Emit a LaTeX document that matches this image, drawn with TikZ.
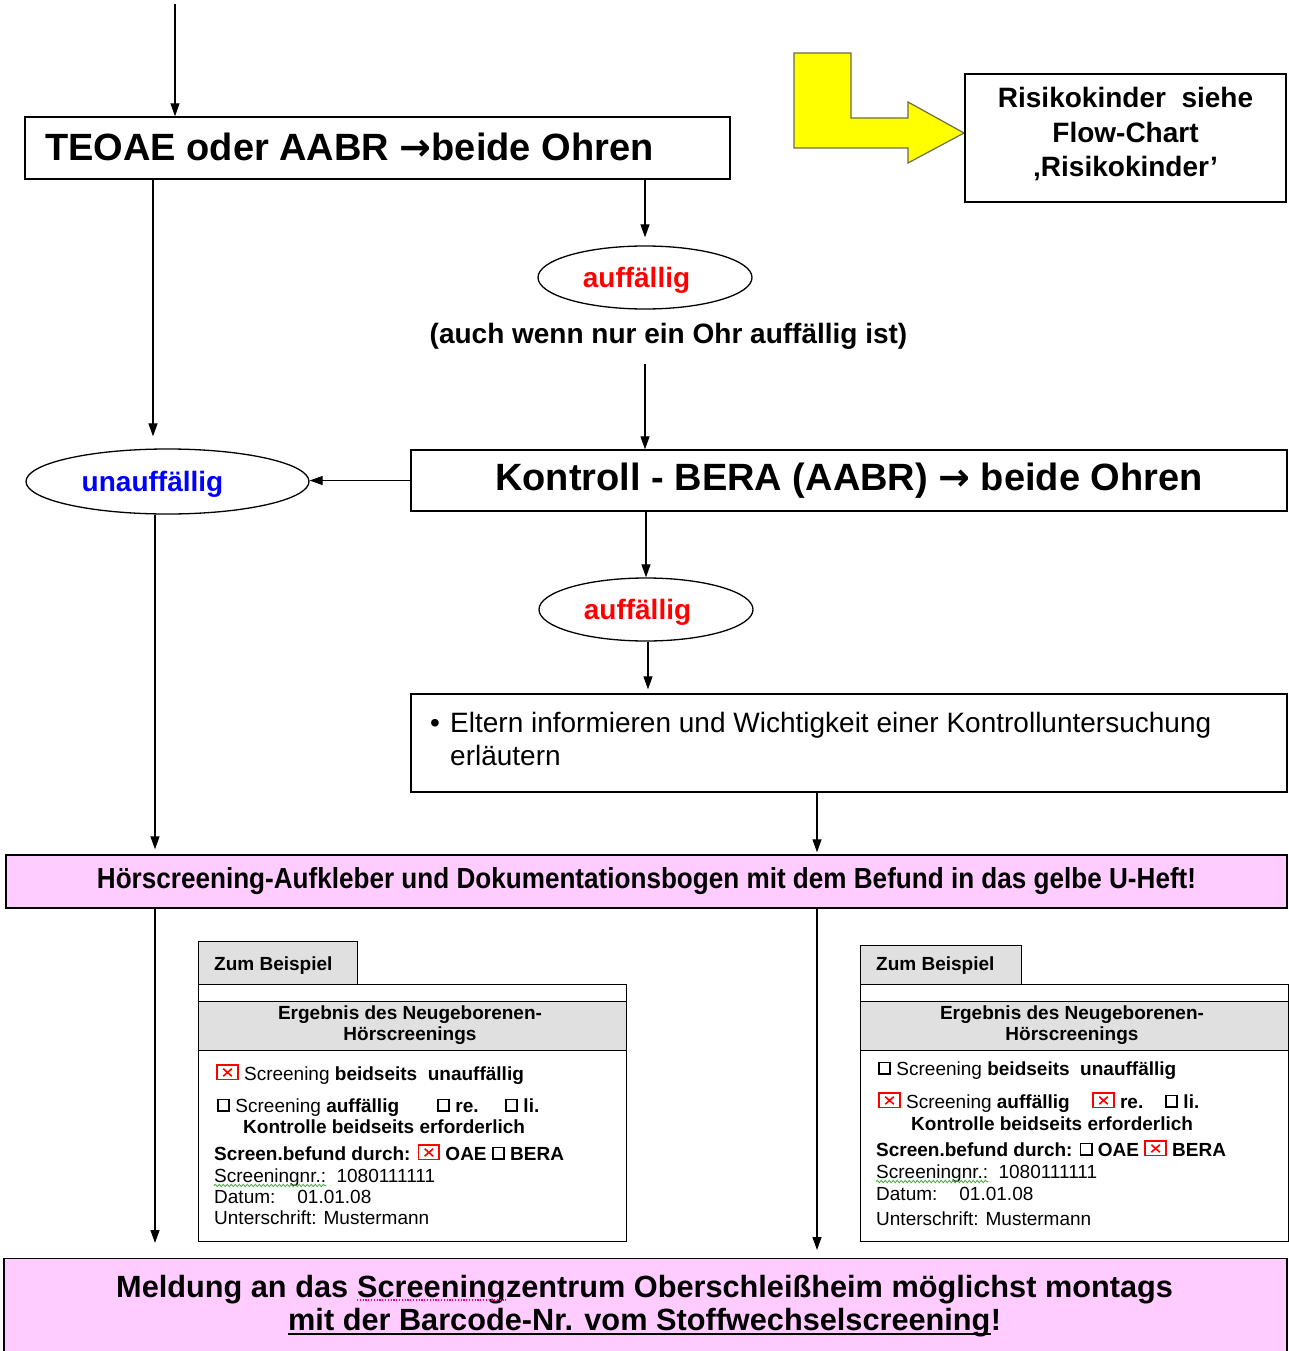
\documentclass[tikz,border=0pt]{standalone}
\usepackage{fontspec}
\usepackage{graphicx}
\setmainfont{Liberation Sans}
\newfontfamily\dejavu{DejaVu Sans}
\usetikzlibrary{arrows.meta,shapes.geometric,decorations.pathmorphing}
\definecolor{pinkfill}{HTML}{FFCCFF}
\definecolor{hdrgray}{HTML}{E0E0E0}
\definecolor{redbox}{HTML}{FF0000}
\definecolor{blueua}{HTML}{0000FF}
\definecolor{yfill}{HTML}{FFFF00}
\definecolor{wavegreen}{HTML}{3CB043}
\newcommand\ebox{\tikz[baseline=0pt]\draw[black,line width=1.8pt] (0.9pt,0.9pt) rectangle (12.1pt,12.6pt);}
\newcommand\rbox{\tikz[baseline=0pt]{\draw[redbox, line width=1.9pt] (0.9pt,0.5pt) rectangle (21.6pt,14.6pt); \draw[redbox, line width=1.6pt] (7pt,3.8pt)--(15.5pt,11.3pt) (7pt,11.3pt)--(15.5pt,3.8pt);}}
\tikzset{
 box/.style={draw, line width=1.4pt, rectangle, inner sep=0pt},
 exbox/.style={draw, line width=1.3pt, rectangle, inner sep=0pt, anchor=north west},
 arr/.style={line width=1.2pt, -{Triangle[length=13pt,width=9pt]}},
 oval/.style={draw, ellipse, line width=1.3pt, inner sep=0pt},
 fbig/.style={font=\fontsize{38}{44}\selectfont\bfseries},
 fmid/.style={font=\fontsize{28}{34.5}\selectfont\bfseries},
 fmidr/.style={font=\fontsize{28}{33}\selectfont},
 fbot/.style={font=\fontsize{30.7}{33}\selectfont\bfseries},
 fsmall/.style={font=\fontsize{19}{21}\selectfont},
 fsmallb/.style={font=\fontsize{19}{21}\selectfont\bfseries},
 txt/.style={inner sep=0pt, anchor=base west},
 wavy/.style={draw=wavegreen, line width=0.8pt, decorate, decoration={snake, amplitude=1.2pt, segment length=4pt}},
}
\begin{document}
\begin{tikzpicture}[x=1pt,y=-1pt]
\useasboundingbox (0,0) rectangle (1289,1351);
\fill[white] (0,0) rectangle (1289,1351);

% top box
\node[box, minimum width=705pt, minimum height=62pt] (top) at (377.5,148) {};
\node[txt, fbig] (toptxt) at (45,161) {TEOAE oder AABR {\dejavu\bfseries →}beide Ohren};
\coordinate (start) at (175,4);
\draw[arr] (start) -- (start |- top.north);

% yellow arrow
\draw[fill=yfill, draw=black!65!yellow, line width=1.2pt] (794,53) -- (851,53) -- (851,118) -- (908,118) -- (908,102) -- (964,133) -- (908,163) -- (908,148) -- (794,148) -- cycle;
\node[box, minimum width=321pt, minimum height=128pt] (risk) at (1125.5,138) {};
\node[align=center, fmid, inner sep=0pt] (risktxt) at (1125.5,134.5) {Risikokinder\ \ siehe\\Flow-Chart\\‚Risikokinder’};

% first auffaellig
\node[oval, minimum width=214pt, minimum height=63pt] (e1) at (645,277.5) {};
\node[fmid, text=redbox, inner sep=0pt, anchor=base] (e1t) at (636.5,287) {auffällig};
\draw[arr, shorten >=8pt] (top.south -| e1.north) -- (e1.north);
\node[fmid, inner sep=0pt] (note) at (668.5,336) {(auch wenn nur ein Ohr auffällig ist)};

% Kontroll box
\node[box, minimum width=876pt, minimum height=61pt, fbig] (kb) at (849,480.5) {Kontroll - BERA (AABR) {\dejavu\bfseries →} beide Ohren};
\coordinate (n1) at ([yshift=-15pt]note.south);
\draw[arr] (n1 -| e1.south) -- (e1.south |- kb.north);

% unauffaellig
\node[oval, minimum width=283pt, minimum height=65pt] (ua) at (167.5,481.5) {};
\node[fmid, text=blueua, inner sep=0pt, anchor=base] (uat) at (152.5,491) {unauffällig};
\draw[arr] (kb.west) -- (kb.west -| ua.east);
\coordinate (lx) at (153,0);
\coordinate (lx2) at (155,0);
\draw[arr, shorten >=12pt] (top.south -| lx) -- (lx |- ua.north);

% second auffaellig
\node[oval, minimum width=214pt, minimum height=63pt] (e2) at (646,609.5) {};
\node[fmid, text=redbox, inner sep=0pt, anchor=base] (e2t) at (637.5,619) {auffällig};
\draw[arr] (kb.south -| e2.north) -- (e2.north);

% Eltern box
\node[box, minimum width=876pt, minimum height=98pt] (elt) at (849,743) {};
\coordinate (ex) at (648,0);
\draw[arr, shorten >=4pt] (e2.south -| ex) -- (ex |- elt.north);
\node[txt, fmidr] (bul) at (430,732) {\textbullet};
\node[txt, fmidr] (elt1) at (450,732) {Eltern informieren und Wichtigkeit einer Kontrolluntersuchung};
\node[txt, fmidr] (elt2) at (450,765) {erläutern};

% pink box 1
\node[box, fill=pinkfill, minimum width=1281pt, minimum height=53pt, font=\fontsize{29}{33}\selectfont\bfseries] (p1) at (646.5,881.5) {\scalebox{0.9}[1]{Hörscreening-Aufkleber und Dokumentationsbogen mit dem Befund in das gelbe U-Heft!}};
\coordinate (ex2) at (817,0);
\draw[arr, shorten >=2pt] (elt.south -| ex2) -- (ex2 |- p1.north);
\draw[arr, shorten >=5pt] (ua.south -| lx2) -- (lx2 |- p1.north);

% bottom pink box
\node[box, fill=pinkfill, minimum width=1283pt, minimum height=100pt, anchor=north] (bot) at (645.5,1258) {};
\node[txt, fbot] (bot1a) at (116,1297) {Meldung an das};
\node[txt, fbot] (bot1b) at ([xshift=8.6pt]bot1a.base east) {Screening};
\node[txt, fbot] (bot1c) at (bot1b.base east) {zentrum Oberschleißheim möglichst montags};
\draw[magenta, line width=1.3pt, dash pattern=on 1.3pt off 1.5pt] ([yshift=-3pt]bot1b.base west) -- ([yshift=-3pt]bot1b.base east);
\node[txt, fbot] (bot2a) at (288,1330) {mit der Barcode-Nr. vom Stoffwechselscreening};
\node[txt, fbot] (bot2b) at (bot2a.base east) {!};
\draw[line width=2pt] ([yshift=-4pt]bot2a.base west) -- ([yshift=-4pt]bot2a.base east);
\draw[arr, shorten >=15pt] (p1.south -| lx2) -- (lx2 |- bot.north);
\draw[arr, shorten >=8pt] (p1.south -| ex2) -- (ex2 |- bot.north);

% left example
\node[exbox, fill=hdrgray, minimum width=159pt, minimum height=43pt] (tabL) at (198,941) {};
\node[txt, fsmallb] (tabLt) at (214,970) {Zum Beispiel};
\node[exbox, minimum width=428pt, minimum height=257pt] (exL) at (198,984) {};
\node[exbox, fill=hdrgray, minimum width=428pt, minimum height=49pt] (hdL) at (198,1001) {};
\node[fsmallb, align=center, inner sep=0pt] (hdLt) at (410,1025.5) {Ergebnis des Neugeborenen-\\Hörscreenings};
\node[txt, fsmall] (l1) at (216,1080) {\rbox\ Screening \textbf{beidseits\ \ unauffällig}};
\node[txt, fsmall] (l2) at (217,1112) {\ebox\ Screening \textbf{auffällig}};
\node[txt, fsmallb] (l2b) at (437,1112) {\ebox\ re.};
\node[txt, fsmallb] (l2c) at (505,1112) {\ebox\ li.};
\node[txt, fsmallb] (l3) at (243,1133) {Kontrolle beidseits erforderlich};
\node[txt, fsmallb] (l4) at (214,1160) {Screen.befund durch: \rbox\ OAE \ebox\ BERA};
\node[txt, fsmall] (l5a) at (214,1182) {Screeningnr.:};
\node[txt, fsmall] (l5b) at ([xshift=10pt]l5a.base east) {1080111111};
\draw[wavy] ([yshift=-3.5pt]l5a.base west) -- ([yshift=-3.5pt]l5a.base east);
\node[txt, fsmall] (l6) at (214,1203) {Datum:\hspace{22pt}01.01.08};
\node[txt, fsmall] (l7) at (214,1224) {Unterschrift: Mustermann};

% right example
\node[exbox, fill=hdrgray, minimum width=161pt, minimum height=39pt] (tabR) at (860,945) {};
\node[txt, fsmallb] (tabRt) at (876,970) {Zum Beispiel};
\node[exbox, minimum width=428pt, minimum height=257pt] (exR) at (860,984) {};
\node[exbox, fill=hdrgray, minimum width=428pt, minimum height=49pt] (hdR) at (860,1001) {};
\node[fsmallb, align=center, inner sep=0pt] (hdRt) at (1072,1025.5) {Ergebnis des Neugeborenen-\\Hörscreenings};
\node[txt, fsmall] (r1) at (878,1075) {\ebox\ Screening \textbf{beidseits\ \ unauffällig}};
\node[txt, fsmall] (r2) at (878,1108) {\rbox\ Screening \textbf{auffällig}};
\node[txt, fsmallb] (r2b) at (1092,1108) {\rbox\ re.};
\node[txt, fsmallb] (r2c) at (1165,1108) {\ebox\ li.};
\node[txt, fsmallb] (r3) at (911,1130) {Kontrolle beidseits erforderlich};
\node[txt, fsmallb] (r4) at (876,1156) {Screen.befund durch: \ebox\ OAE \rbox\ BERA};
\node[txt, fsmall] (r5a) at (876,1178) {Screeningnr.:};
\node[txt, fsmall] (r5b) at ([xshift=10pt]r5a.base east) {1080111111};
\draw[wavy] ([yshift=-3.5pt]r5a.base west) -- ([yshift=-3.5pt]r5a.base east);
\node[txt, fsmall] (r6) at (876,1200) {Datum:\hspace{22pt}01.01.08};
\node[txt, fsmall] (r7) at (876,1225) {Unterschrift: Mustermann};
\end{tikzpicture}
\end{document}
